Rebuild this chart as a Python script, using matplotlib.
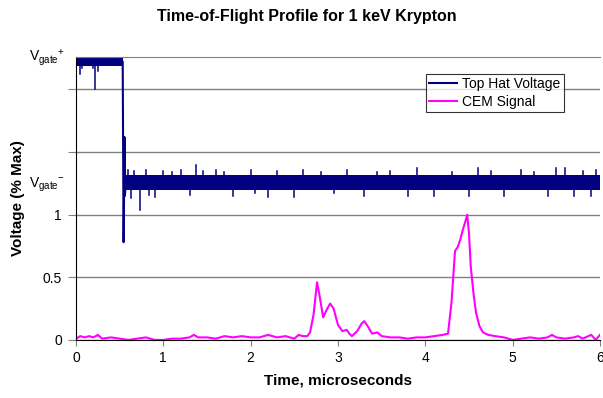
import numpy as np
import matplotlib
matplotlib.use("Agg")
import matplotlib.pyplot as plt

plt.rcParams['font.family'] = ['Liberation Sans', 'DejaVu Sans']
plt.rcParams['mathtext.fontset'] = 'custom'
plt.rcParams['mathtext.rm'] = 'Liberation Sans'
plt.rcParams['mathtext.it'] = 'Liberation Sans'

# CEM signal (normalised)
cem_time = [0.0, 0.05, 0.1, 0.15, 0.2, 0.25, 0.3, 0.4, 0.5, 0.6, 0.7, 0.8, 0.9,
            1.0, 1.1, 1.2, 1.3, 1.35, 1.4, 1.5, 1.6, 1.7, 1.8, 1.9, 2.0, 2.1,
            2.2, 2.3, 2.4, 2.5, 2.55, 2.6, 2.65, 2.68, 2.72, 2.76, 2.79, 2.83,
            2.87, 2.91, 2.95, 3.0, 3.05, 3.1, 3.13, 3.16, 3.22, 3.27, 3.30,
            3.34, 3.39, 3.45, 3.5, 3.6, 3.7, 3.8, 3.9, 4.0, 4.1, 4.2, 4.26,
            4.30, 4.34, 4.37, 4.40, 4.43, 4.46, 4.48, 4.50, 4.52, 4.55, 4.58,
            4.62, 4.66, 4.72, 4.8, 4.9, 5.0, 5.1, 5.2, 5.3, 5.4, 5.45, 5.5,
            5.6, 5.7, 5.75, 5.8, 5.9, 5.95, 6.0]
cem_signal = [0.01, 0.03, 0.02, 0.03, 0.02, 0.04, 0.01, 0.02, 0.01, 0.0, 0.01,
              0.02, 0.0, 0.0, 0.01, 0.01, 0.02, 0.04, 0.02, 0.02, 0.01, 0.03,
              0.02, 0.03, 0.02, 0.02, 0.04, 0.02, 0.03, 0.01, 0.04, 0.03, 0.03,
              0.06, 0.2, 0.46, 0.35, 0.18, 0.24, 0.29, 0.25, 0.12, 0.07, 0.08,
              0.05, 0.03, 0.07, 0.13, 0.15, 0.11, 0.05, 0.06, 0.03, 0.02, 0.02,
              0.01, 0.02, 0.02, 0.03, 0.04, 0.05, 0.3, 0.71, 0.74, 0.80, 0.88,
              0.95, 1.0, 0.85, 0.59, 0.38, 0.22, 0.11, 0.06, 0.04, 0.03, 0.02,
              0.0, 0.01, 0.02, 0.01, 0.02, 0.04, 0.02, 0.01, 0.02, 0.03, 0.01,
              0.04, 0.0, 0.04]

# Top hat voltage: noise band envelopes
hat_hi_time = [0.0, 0.54]
hat_hi_low, hat_hi_high = 2.19, 2.28
hat_lo_time = [0.57, 6.0]
hat_lo_low, hat_lo_high = 1.20, 1.32
# switching edge
edge_time = [0.535, 0.54, 0.545, 0.55, 0.555, 0.56, 0.57]
edge_volt = [2.22, 1.5, 0.78, 1.1, 1.62, 1.15, 1.25]
# spikes out of the band (time, value)
spike_time = [0.05, 0.07, 0.2, 0.22, 0.25, 0.6, 0.63, 0.66, 0.73, 0.8, 0.84,
              0.9, 1.0, 1.1, 1.2, 1.3, 1.38, 1.45, 1.6, 1.7, 1.8, 2.0, 2.05,
              2.2, 2.3, 2.5, 2.6, 2.8, 2.95, 3.1, 3.3, 3.45, 3.6, 3.8, 3.9,
              4.1, 4.3, 4.5, 4.6, 4.75, 4.9, 5.1, 5.25, 5.4, 5.5, 5.6, 5.7,
              5.8, 5.9, 5.95]
spike_volt = [2.12, 2.17, 2.17, 2.0, 2.15, 1.36, 1.13, 1.35, 1.04, 1.36, 1.16,
              1.14, 1.35, 1.34, 1.36, 1.16, 1.40, 1.35, 1.36, 1.34, 1.15, 1.36,
              1.17, 1.14, 1.35, 1.14, 1.36, 1.34, 1.17, 1.36, 1.15, 1.34, 1.35,
              1.15, 1.37, 1.15, 1.34, 1.15, 1.37, 1.35, 1.15, 1.36, 1.34, 1.15,
              1.37, 1.37, 1.15, 1.35, 1.15, 1.36]

navy = '#000080'
magenta = '#FF00FF'

fig = plt.figure(figsize=(6.03, 3.98), dpi=100)
ax = fig.add_axes([0.126, 0.146, 0.869, 0.711])

ax.fill_between(hat_hi_time, hat_hi_low, hat_hi_high, color=navy, lw=0)
ax.fill_between(hat_lo_time, hat_lo_low, hat_lo_high, color=navy, lw=0)
ax.plot(edge_time, edge_volt, color=navy, lw=1.5, label='Top Hat Voltage')
for t, v in zip(spike_time, spike_volt):
    if v > 1.9:
        base = hat_hi_low
    elif v > 1.3:
        base = hat_lo_high
    else:
        base = hat_lo_low
    ax.plot([t, t], [base, v], color=navy, lw=1.1)

ax.plot(cem_time, cem_signal, color=magenta, lw=1.5, label='CEM Signal')

ax.set_xlim(0, 6)
ax.set_ylim(0, 2.26)
ax.set_xticks(range(7))
ax.set_yticks([0, 0.5, 1, 1.5, 2])
ax.set_yticklabels(['0', '0.5', '1', '', ''])
ax.tick_params(direction='out', length=4, labelsize=10, pad=4, color='#808080')
ax.tick_params(axis='y', length=6, pad=4)
ax.yaxis.grid(True, color='#808080', lw=1)
ax.set_axisbelow(True)
ax.spines['right'].set_visible(False)
ax.spines['top'].set_color('#808080')
ax.spines['left'].set_color('black')
ax.spines['bottom'].set_color('black')

ax.text(-0.12, 2.25, r'V$_{\mathrm{gate}}$$^{+}$', ha='right', va='center', fontsize=10)
ax.text(-0.12, 1.24, r'V$_{\mathrm{gate}}$$^{-}$', ha='right', va='center', fontsize=10)

ax.set_xlabel('Time, microseconds', fontsize=11, fontweight='bold', labelpad=6)
ax.set_ylabel('Voltage (% Max)', fontsize=11, fontweight='bold', labelpad=13)
fig.suptitle('Time-of-Flight Profile for 1 keV Krypton', fontsize=11.5,
             fontweight='bold', x=0.509, y=0.978)

leg = ax.legend(loc='upper right', bbox_to_anchor=(0.945, 0.965), fontsize=10,
                frameon=True, fancybox=False, edgecolor='black',
                borderpad=0.25, handlelength=2.0, handletextpad=0.4,
                labelspacing=0.25)
leg.get_frame().set_linewidth(0.8)

fig.savefig('out.png', dpi=100)
